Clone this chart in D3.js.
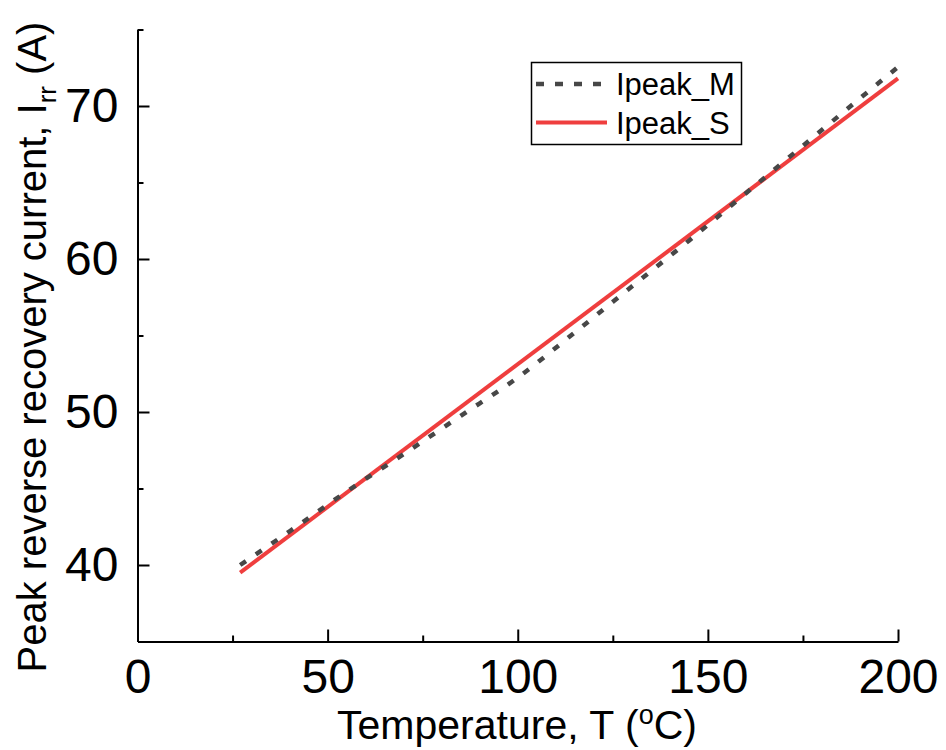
<!DOCTYPE html>
<html>
<head>
<meta charset="utf-8">
<script src="https://cdn.jsdelivr.net/npm/d3@7"></script>
<style>
  body { margin: 0; background: #fff; }
  svg { display: block; font-family: Arial, "Liberation Sans", sans-serif; }
</style>
</head>
<body>
<svg id="chart" width="946" height="750"></svg>
<script>
// Temperature (degC) and peak reverse recovery current (A)
const tempM = [27, 40, 55, 70, 85, 100, 115, 130, 145, 160, 175, 190, 200];
const ipeakM = [40.0, 42.2, 44.8, 47.25, 49.75, 52.25, 55.2, 58.2, 61.2, 64.3, 67.4, 70.5, 72.55];
const tempS = [27, 200];
const ipeakS = [39.5, 71.8];

const xMajor = [0, 50, 100, 150, 200];
const xMinor = [25, 75, 125, 175];
const yMajor = [40, 50, 60, 70];
const yMinor = [45, 55, 65, 75];

const seriesNames = ["Ipeak_M", "Ipeak_S"];

const svg = d3.select('#chart');

// Scales, fitted to the plot frame
const x = d3.scaleLinear().domain([0, 200]).range([137.5, 898]);
const y = d3.scaleLinear().domain([35, 75]).range([641.5, 29.5]);

const g = svg.append('g');

// Axes: left and bottom only, ticks pointing inward
function styleAxis(sel) {
    sel.select('.domain').attr('stroke', '#000').attr('stroke-width', 2);
    sel.selectAll('.tick line').attr('stroke', '#000').attr('stroke-width', 2);
}

// X axis major ticks with labels
const xAxis = g.append('g')
    .attr('transform', `translate(0,${y(35)})`)
    .call(d3.axisBottom(x).tickValues(xMajor).tickSizeInner(-12).tickSizeOuter(0).tickPadding(20));
styleAxis(xAxis);
xAxis.selectAll('text')
    .attr('fill', '#000')
    .style('font-size', '48px')
    .attr('dy', '0.71em')
    .attr('y', 17);

// X axis minor ticks
g.append('g')
    .attr('transform', `translate(0,${y(35)})`)
    .call(d3.axisBottom(x).tickValues(xMinor).tickSize(-6).tickFormat(''))
    .call(styleAxis)
    .select('.domain').remove();

// Y axis major ticks with labels
const yAxis = g.append('g')
    .attr('transform', `translate(${x(0)},0)`)
    .call(d3.axisLeft(y).tickValues(yMajor).tickSizeInner(-12).tickSizeOuter(0).tickPadding(19));
styleAxis(yAxis);
yAxis.selectAll('text')
    .attr('fill', '#000')
    .style('font-size', '48px')
    .attr('x', -19);

// Y axis minor ticks
g.append('g')
    .attr('transform', `translate(${x(0)},0)`)
    .call(d3.axisLeft(y).tickValues(yMinor).tickSize(-6).tickFormat(''))
    .call(styleAxis)
    .select('.domain').remove();

// Line generator
const line = d3.line()
    .x(d => x(d[0]))
    .y(d => y(d[1]))
    .curve(d3.curveMonotoneX);

const dataS = tempS.map((t, i) => [t, ipeakS[i]]);
const dataM = tempM.map((t, i) => [t, ipeakM[i]]);

// Ipeak_S solid red
g.append('path')
    .datum(dataS)
    .attr('fill', 'none')
    .attr('stroke', '#ef3e3e')
    .attr('stroke-width', 4)
    .attr('d', line);

// Ipeak_M dotted grey
g.append('path')
    .datum(dataM)
    .attr('fill', 'none')
    .attr('stroke', '#474747')
    .attr('stroke-width', 4.5)
    .attr('stroke-dasharray', '7,12')
    .attr('d', line);

// Legend
const legend = g.append('g');
legend.append('rect')
    .attr('x', 531.5).attr('y', 62.5)
    .attr('width', 210).attr('height', 82)
    .attr('fill', '#fff')
    .attr('stroke', '#000')
    .attr('stroke-width', 1.5);

const legendStyles = [
    { stroke: '#474747', dash: '8,11', width: 4.5 },
    { stroke: '#ef3e3e', dash: null, width: 4 }
];
seriesNames.forEach((name, i) => {
    const ly = 84 + i * 38.5;
    legend.append('line')
        .attr('x1', 536).attr('x2', 607)
        .attr('y1', ly).attr('y2', ly)
        .attr('stroke', legendStyles[i].stroke)
        .attr('stroke-width', legendStyles[i].width)
        .attr('stroke-dasharray', legendStyles[i].dash);
    legend.append('text')
        .attr('x', 616)
        .attr('y', ly)
        .attr('dy', '0.36em')
        .style('font-size', '31px')
        .attr('fill', '#000')
        .text(name);
});

// Axis titles
const xTitle = svg.append('text')
    .attr('x', 517)
    .attr('y', 739)
    .attr('text-anchor', 'middle')
    .style('font-size', '41px')
    .attr('fill', '#000');
xTitle.append('tspan').text('Temperature, T (');
xTitle.append('tspan').attr('dy', -15).style('font-size', '27px').text('o');
xTitle.append('tspan').attr('dy', 15).text('C)');

const yTitle = svg.append('text')
    .attr('transform', 'translate(46,347) rotate(-90)')
    .attr('text-anchor', 'middle')
    .style('font-size', '40px')
    .attr('fill', '#000');
yTitle.append('tspan').text('Peak reverse recovery current, I');
yTitle.append('tspan').attr('dy', 10).style('font-size', '26px').text('rr');
yTitle.append('tspan').attr('dy', -10).text(' (A)');
</script>
</body>
</html>
